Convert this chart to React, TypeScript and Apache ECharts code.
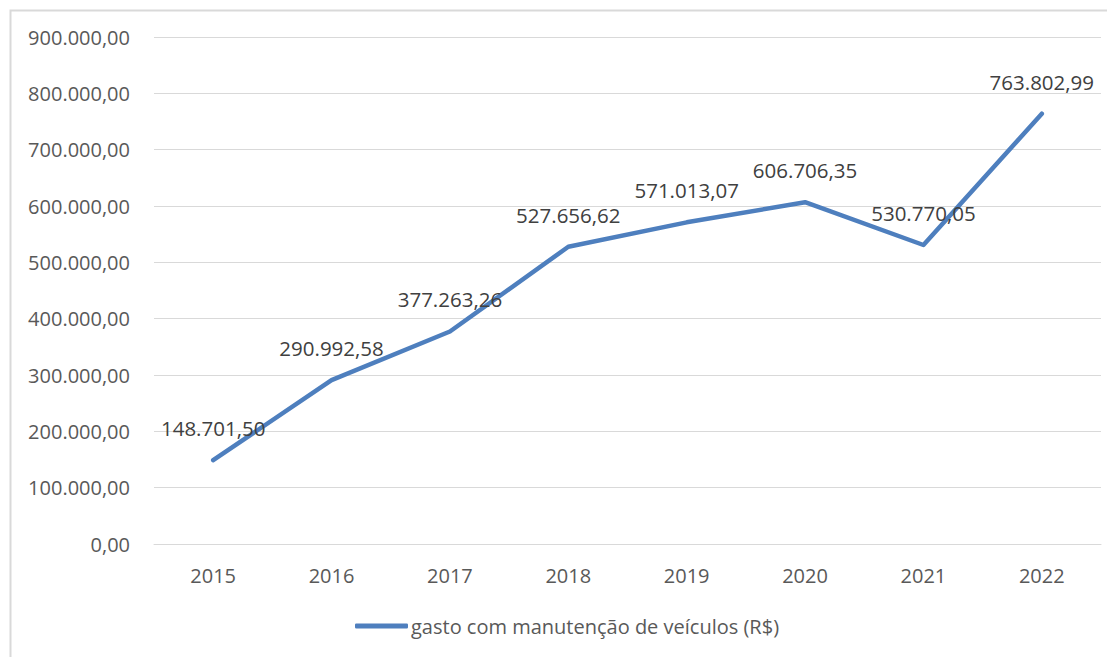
import React, { useEffect, useRef } from "react";
import * as echarts from "echarts";

const years = ["2015", "2016", "2017", "2018", "2019", "2020", "2021", "2022"];
const gasto = [148701.5, 290992.58, 377263.26, 527656.62, 571013.07, 606706.35, 530770.05, 763802.99];
const seriesName = "gasto com manutenção de veículos (R$)";

function fmt(v: number): string {
  const fixed = Number(v).toFixed(2);
  const [int, dec] = fixed.split(".");
  const withDots = int.replace(/\B(?=(\d{3})+(?!\d))/g, ".");
  return withDots + "," + dec;
}

export default function App() {
  const ref = useRef<HTMLDivElement>(null);
  useEffect(() => {
    document.body.style.overflow = "hidden";
    const chart = echarts.init(ref.current!, undefined, { renderer: "svg" });
    const font = "'Open Sans', sans-serif";
    const blue = "#4e7fbe";
    chart.setOption({
      animation: false,
      backgroundColor: "#ffffff",
      grid: { left: 146, right: 14, top: 29, bottom: 113, containLabel: false },
      graphic: [
        {
          type: "rect",
          left: 0,
          top: 0,
          shape: { x: 0, y: 0, width: 1300, height: 900 },
          style: { fill: "none", stroke: "#d9d9d9", lineWidth: 2 },
          silent: true,
          z: 100,
        },
      ],
      legend: {
        show: true,
        left: 342,
        top: 603,
        itemWidth: 53,
        itemHeight: 5,
        itemGap: 10,
        textStyle: { fontFamily: font, fontSize: 20, color: "#595959", padding: [0, 0, 0, -2] },
        data: [{ name: seriesName, icon: "roundRect", itemStyle: { color: blue } }],
      },
      xAxis: {
        type: "category",
        data: years,
        boundaryGap: true,
        axisLine: { show: true, lineStyle: { color: "#d9d9d9", width: 1 } },
        axisTick: { show: false },
        axisLabel: { color: "#595959", fontFamily: font, fontSize: 20, margin: 19, lineHeight: 24 },
      },
      yAxis: {
        type: "value",
        min: 0,
        max: 900000,
        interval: 100000,
        axisLine: { show: false },
        axisTick: { show: false },
        splitLine: { lineStyle: { color: "#d9d9d9", width: 1 } },
        axisLabel: {
          color: "#595959",
          fontFamily: font,
          fontSize: 20,
          margin: 24,
          formatter: (v: number) => fmt(v),
        },
      },
      series: [
        {
          name: seriesName,
          type: "line",
          data: gasto,
          symbol: "circle",
          symbolSize: 0.1,
          showSymbol: true,
          lineStyle: { color: blue, width: 4.5, cap: "round", join: "round" },
          itemStyle: { color: blue },
          label: {
            show: true,
            position: "top",
            distance: 20,
            color: "#404040",
            fontFamily: font,
            fontSize: 20.5,
            lineHeight: 24,
            formatter: (p: any) => fmt(p.value),
          },
        },
      ],
    });
    return () => chart.dispose();
  }, []);
  return <div ref={ref} style={{ width: 1107, height: 649 }} />;
}
